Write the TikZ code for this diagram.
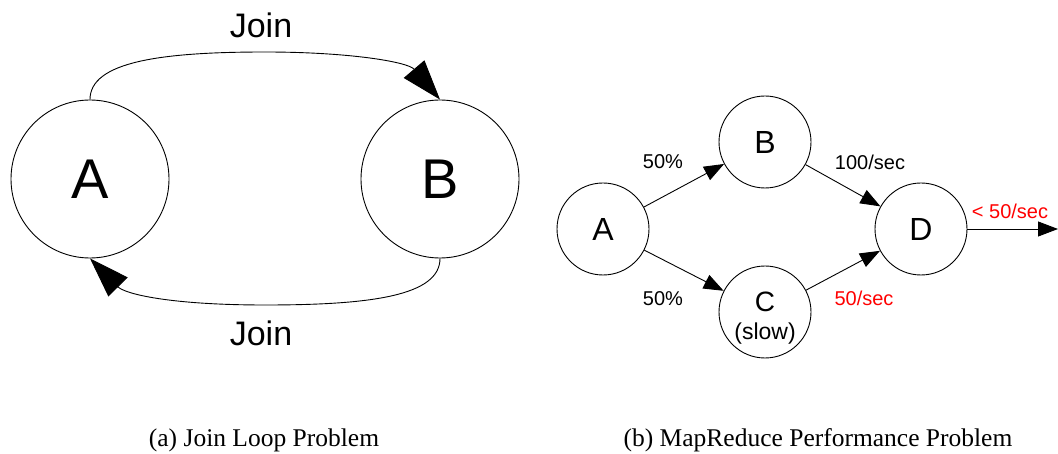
\documentclass[tikz,border=0pt]{standalone}
\usepackage{fontspec}
\setmainfont{Liberation Serif}
\newfontfamily\arialfont{Liberation Sans}
\usetikzlibrary{arrows.meta}

\begin{document}
\begin{tikzpicture}[x=1pt, y=-1pt,
  line width=0.9pt,
  bigcirc/.style={circle, draw, minimum size=158pt, inner sep=0pt,
    font=\arialfont\fontsize{56}{60}\selectfont},
  smallcirc/.style={circle, draw, minimum size=92pt, inner sep=0pt,
    font=\arialfont\fontsize{32}{34}\selectfont},
  looparrow/.style={-{Triangle[length=40pt, width=27pt]}},
  flowarrow/.style={-{Triangle[length=20pt, width=15pt]}},
  joinlbl/.style={font=\arialfont\fontsize{34}{40}\selectfont},
  edgelbl/.style={font=\arialfont\fontsize{20}{22}\selectfont},
  ratelbl/.style={edgelbl, text=red},
  caption/.style={font=\fontsize{25.5}{28}\selectfont}
]
\useasboundingbox (0,0) rectangle (1058,454);

% (a) join loop
\node[bigcirc] (jA) at (90,179) {A};
\node[bigcirc] (jB) at (440,179) {B};
\draw[looparrow] (jA.north) .. controls (90,62) and (160,52) .. (265,52)
  .. controls (350,52) and (408,62) .. (jB.north);
\draw[looparrow] (jB.south) .. controls (440,296) and (370,305) .. (265,305)
  .. controls (170,305) and (125,294) .. (jA.south);
\node[joinlbl] (jtop) at (261,25) {Join};
\node[joinlbl] (jbot) at (261,333) {Join};
\node[caption] (capa) at (264,440) {(a) Join Loop Problem};

% (b) MapReduce flow
\node[smallcirc] (rA) at (603,229) {A};
\node[smallcirc] (rB) at (765,142) {B};
\node[smallcirc] (rC) at (765,312) {};
\node[font=\arialfont\fontsize{28}{30}\selectfont] (rCt) at (765,302) {C};
\node[font=\arialfont\fontsize{23}{26}\selectfont] (rCs) at (765,334) {(slow)};
\node[smallcirc] (rD) at (921,229) {D};
\coordinate (out) at (1058,229);

\draw[flowarrow] (rA) -- (rB);
\draw[flowarrow] (rA) -- (rC);
\draw[flowarrow] (rB) -- (rD);
\draw[flowarrow] (rC) -- (rD);
\draw[flowarrow] (rD) -- (out);

\node[edgelbl] (p1) at (663,162) {50\%};
\node[edgelbl] (p2) at (663,299) {50\%};
\node[edgelbl] (r1) at (870,162) {100/sec};
\node[ratelbl] (r2) at (864,298) {50/sec};
\node[ratelbl] (r3) at (1010,211) {< 50/sec};
\node[caption] (capb) at (818,440) {(b) MapReduce Performance Problem};
\end{tikzpicture}
\end{document}
